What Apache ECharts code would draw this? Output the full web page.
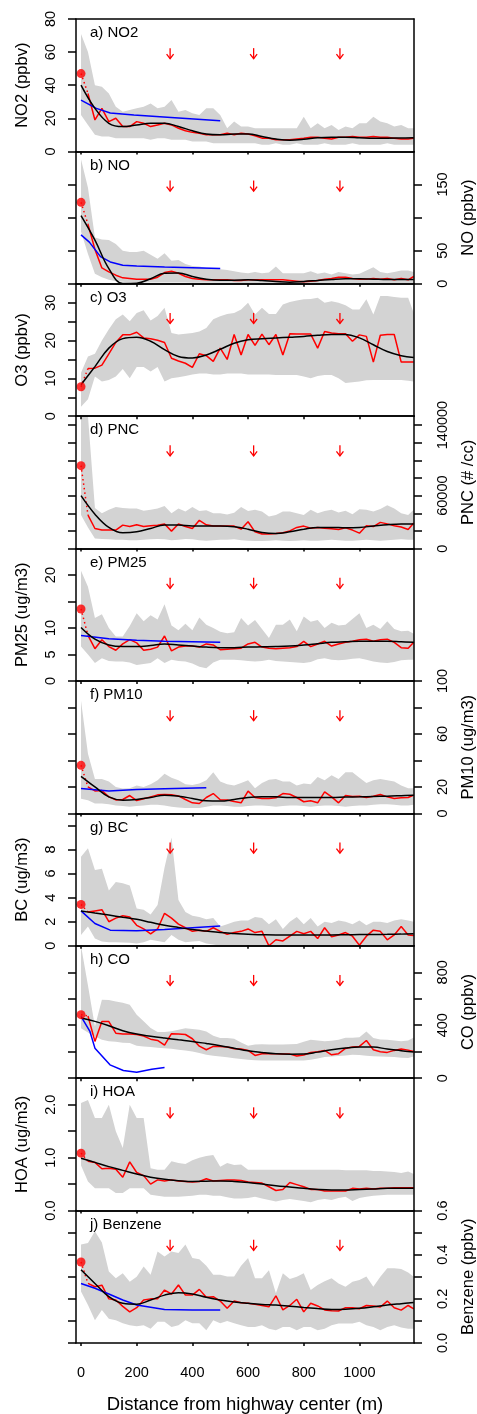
<!DOCTYPE html>
<html><head><meta charset="utf-8">
<script src="https://cdn.jsdelivr.net/npm/echarts@6/dist/echarts.min.js"></script>
<style>html,body{margin:0;padding:0;background:#fff}#c{width:477px;height:1414px}</style>
</head><body><div id="c"></div>
<script>
// ---------------- DATA ----------------
const DIST = [0,25,50,75,100,125,150,175,200,225,250,275,300,325,350,375,400,425,450,475,500,525,550,575,600,625,650,675,700,725,750,775,800,825,850,875,900,925,950,975,1000,1025,1050,1075,1100,1125,1150,1175,1195];
const FIT_DIST = [0,50,100,150,200,250,300,350,400,450,500,550,600,650,700,750,800,850,900,950,1000,1050,1100,1150,1195];
const X_TICKS = [0,200,400,600,800,1000];
const ARROW_X = [320,620,930];
const PANEL_LABELS = ['a) NO2','b) NO','c) O3','d) PNC','e) PM25','f) PM10','g) BC','h) CO','i) HOA','j) Benzene'];
const AXIS_TITLES = ['NO2 (ppbv)','NO (ppbv)','O3 (ppbv)','PNC (# /cc)','PM25 (ug/m3)','PM10 (ug/m3)','BC (ug/m3)','CO (ppbv)','HOA (ug/m3)','Benzene (ppbv)'];
const X_TITLE = 'Distance from highway center (m)';
const ROADSIDE = [47,123,7.8,94000,13.6,36.3,3.44,480,1.085,0.367];

// NO2
const NO2_UP = [71,60,40,39,35,27,24,25,26,27,29,26,27,31,24,25,23,22,26,26,22,14,18,15,15,14,14,14,14,14,14,14,21,14,17,14,16,13,15,14,17,17,21,18,17,15,16,14,14];
const NO2_LO = [22,16,10,9,9,8,8,8,8,8,7,8,8,7,7,7,6,6,6,5,5,5,5,5,5,5,4,4,5,4,4,5,4,4,4,5,4,4,4,5,4,4,4,4,5,4,4,4,4];
const NO2_MED = [35,19,26,18,20,15,15,18,17,15,16,17,16,14,12.5,11.5,11,10,10,10,11,10,11,10.5,9.5,8,8,7,7,7,7.5,8,8.6,8.5,8,7.5,8.5,8.5,9,8.5,8.5,9,8.5,8.5,8,7.5,7.5,8];
const NO2_FIT = [40,26,17,15,16,17,17,15,12.5,10.5,10,10.5,10.5,9,7.5,6.8,7.3,8.3,8.6,8.6,8.3,8,8,8.1,8.2];
const NO2_MODEL_X = [0,55,105,190,310,500];
const NO2_MODEL = [31,26,23.2,22,20.7,18.5];
// NO
const NO_UP = [188,145,70,67,66,60,50,48,48,50,44,38,46,35,36,30,27,26,24,23,22,21,19,17,16,18,16,17,26,16,16,16,16,19,15,17,14,18,16,14,15,20,25,18,16,18,20,20,18];
const NO_LO = [79,45,15,10,6,4,3,2,2,2,2,2,2,2,2,2,1.5,1.5,1.5,1.5,1.5,1.5,1.5,1,1,1,1,1,1,1,1,1,1,1,1,1,1,1,1,1,1,1,1,1,1,1,1,1,1];
const NO_MED = [90,52,24,18,13,9,8,7,7,7,10,17,19,16,11,8,7,6,6,6,6,5,5,6,6,6,6,6,6,5,4,3,4,5,7,8,10,10,8,7,7,8,7,8,6,8,6,11];
const NO_FIT = [103,66,23,0.5,1,7.6,16,16.5,11,7,5.5,5.5,6,5,3.5,2.5,3.5,5,6.5,7.5,7.5,7,6.5,6.5,6.5];
const NO_MODEL_X = [0,30,70,105,150,200,300,500];
const NO_MODEL = [74,63,41,33,28,27,25.5,23];
// O3
const O3_UP = [11.5,15.8,16.5,20,23,25.6,26.9,25.1,27.3,28,25.3,26.5,28.7,22,21.6,21.8,22,22.4,23.3,25.6,26.4,27,27.3,28.2,30,26.9,28.7,27,27,29.5,30.2,30.6,30.9,31,31.3,30,30.4,30,29.3,28.2,28.2,30.9,26.9,31.8,31.8,31.5,31.3,31.3,27.3];
const O3_LO = [2.5,4.5,10.5,9.2,9.6,10.5,12.5,10,13,13,11.8,13,9.2,10,10.3,10.6,11,11.3,11.3,11,11,11.3,11.3,11.3,11,11,11,11,10.9,10.9,10.9,10.9,10.5,10,10.6,10.9,10.9,10,8.8,9,9.2,9.5,9.6,9.6,9.6,9.6,9.6,9.4,9.2];
const O3_MED = [12.6,12.7,13.5,16.5,19.5,21.5,21.5,22.2,20.7,20.5,20.1,19.5,15.3,14.6,14,12.9,16.5,16,14.5,18,15,21.6,16.2,21.6,18.7,21.7,18.9,21.6,16.2,21.8,21.7,21.7,21.7,18,22.4,22,21.8,21.8,19.8,21.5,21.1,14.3,21.4,21.6,21.6,14.3,14.3,14.3];
const O3_FIT = [8.3,13.1,18,20.5,20.9,19.8,17.6,15.8,15.4,16.2,17.7,19.3,20.2,20.5,20.7,20.9,21.1,21.4,21.6,21.6,20.7,18.9,17.1,16,15.5];
// PNC
const PNC_UP = [150000,150000,46000,40000,44000,47000,46000,45500,45500,43000,44000,45500,48300,40000,45500,42000,47000,42500,43500,40000,40000,38500,40500,47000,42500,44000,42000,36500,38000,42000,42000,40000,38000,44000,40000,42500,44000,41000,43000,39000,44500,44000,42000,45000,49000,45500,40000,38000,44000];
const PNC_LO = [38000,24000,11500,11000,10500,10000,10000,9500,9500,10000,10500,11000,10500,9500,10000,11000,10500,9500,9000,9500,10000,10000,10500,9500,9000,8500,8500,9000,9500,9000,8500,9000,9500,9000,9000,9500,10000,9500,9000,9000,9500,10000,9500,9000,9500,10000,10500,10000,10000];
const PNC_MED = [38000,22800,21000,21000,21000,26600,25000,27000,25000,26000,26500,27800,19800,27800,25000,22800,32000,27000,25500,25500,25500,25500,22000,30400,19000,16500,16500,17100,17900,20000,24000,25500,23000,24000,23000,22500,21700,23500,21000,17500,26000,25000,29700,28000,26000,24500,21700,29000];
const PNC_FIT = [60000,39000,24000,17900,19000,22800,26600,26600,25500,25500,25500,24700,22000,18250,17100,19000,22000,24000,24000,23600,24000,25500,27000,27800,27800];
// PM2.5
const PM25_UP = [20.8,17.8,11.9,12.6,10,8.4,8.4,10.4,12.8,11.3,12.4,11.6,14.5,10.5,9.6,10.8,9.6,12,10.6,10,9.3,9,9.2,11.9,10.5,11.5,9.8,8.1,10.6,10.6,11.6,9.4,12.2,11.2,11.5,10,11,10.5,10.6,11.7,12.8,10,10.6,9.8,11.3,9.8,9.4,9.5,8.9];
const PM25_LO = [6.5,5,3.4,4.3,3.8,3.7,3.7,3.5,3,3.2,3.4,4.3,3.4,4,3.8,3.7,3.3,2.7,2.4,3.5,4,4,4,3.9,3.8,3.7,3.8,4,3.8,3.7,3.6,3.5,3.4,3.6,4.1,4.3,4,3.9,4,4.2,4.3,4,3.7,3.5,3.4,3.6,3.9,4,4];
const PM25_MED = [8.6,6.1,7.8,6.5,5.8,7,7.8,7.2,5.8,6,6.4,8.5,5.7,6.4,6.6,6.6,6.4,7,6.8,5.9,6,6.1,6.2,7,7.3,6.4,6.2,6.1,6.2,6.3,6.5,7.5,6.5,7,7.5,6.6,7,7.3,7.5,7.8,7.9,7.5,7.8,7.9,7.3,6.3,6.2,7.3];
const PM25_FIT = [10.1,7.9,6.8,6.5,6.5,6.7,7,6.8,6.6,6.4,6.3,6.3,6.4,6.45,6.5,6.6,6.8,7.05,7.3,7.4,7.5,7.5,7.5,7.4,7.3];
const PM25_MODEL_X = [0,100,200,300,400,500];
const PM25_MODEL = [8.6,8,7.7,7.5,7.4,7.3];
// PM10
const PM10_UP = [85,45,26,26,24,20,18.8,19,21,20,22,25,30,27,25,22,21.5,22.5,25,31,24,22,21,23,25,19,23,25.5,26,24,24,21,22.5,22,27.5,25,28.8,26,31,31,27,23,25,26,25,24,21,19,19];
const PM10_LO = [11,10,7.5,7.5,7,6,5.5,5,5.5,6,6.5,6.5,6,5,4.5,4,4,4,5,6,6,5.5,5,5,5.5,6,6,5.5,5,5.5,6,6,5.5,5,5.5,6,6,5.5,5,5.5,6,6,6.5,7,7,6.5,6,6,6.5];
const PM10_MED = [20,17,17.3,12.5,10.2,10.5,13.5,9.7,11,12.5,14,14.3,14,13.2,10.5,8,7.5,12,15,10.3,10.2,9,8,16.8,12,11.3,11.3,11.8,15,14.5,12,8.8,9.5,8,16.3,12.5,8,13.5,12.8,13,12,13,14.3,12.5,11.3,11.8,12,13.8];
const PM10_FIT = [28,20,12.5,10,10.5,12,13.8,13,11.3,9.5,9.3,10.5,12,12.5,12.5,12,12,12,12,12.3,12.5,12.8,13,13.4,13.8];
const PM10_MODEL_X = [0,100,200,300,450];
const PM10_MODEL = [18.8,17,18,18.6,19.3];
// BC
const BC_UP = [7.4,8.1,6.3,6.4,4.6,5.3,5.2,5,3.1,3,2.6,3.4,6.5,9,3.8,2.8,2.5,2.4,2.2,2.3,1.6,1.8,2,2.1,2.1,2.4,2.3,1.8,2.2,1.4,2,2.4,1.8,2.3,1.6,2,1.9,2.1,2,1.8,2.1,1.7,2,2,1.9,2.1,2.2,2.1,2];
const BC_LO = [0.9,1.6,0.6,0.35,0.3,0.3,0.28,0.25,0.2,0.3,0.5,0.4,0.3,0.9,0.5,0.3,0.35,0.4,0.2,0.1,0,0,0,0,0,0,0,0,0,0,0,0,0,0,0,0,0,0,0,0,0,0,0,0,0,0,0,0,0];
const BC_MED = [2.8,2.9,3,2,2.3,2.5,2.4,1.7,1.4,1,1.4,2.7,2.3,1.8,1.5,1.2,1.3,1.2,1.5,1.2,0.95,1.1,1.2,1.4,1.1,1.2,0,0.5,0.4,0.8,1.2,1,1.2,0.6,1.5,0.75,0.9,1.1,0.8,0.05,0.8,1.3,1.2,0.5,0.9,1.6,0.9,0.85];
const BC_FIT = [2.9,2.72,2.55,2.37,2.2,1.95,1.7,1.52,1.35,1.22,1.1,1.02,0.95,0.92,0.9,0.9,0.9,0.9,0.9,0.92,0.93,0.94,0.95,0.97,1.0];
const BC_MODEL_X = [0,50,105,200,300,500];
const BC_MODEL = [2.9,1.85,1.3,1.25,1.35,1.65];
// CO
const CO_UP = [1000,700,390,593,590,580,570,555,480,430,380,348,348,355,366,378,372,365,353,320,303,303,298,270,245,255,257,255,255,255,256,258,275,290,285,280,282,290,305,305,310,353,303,292,290,285,280,285,308];
const CO_LO = [378,345,315,290,280,275,268,265,245,240,235,230,227,222,215,210,202,190,177,170,164,158,151,145,139,136,134,134,134,134,134,134,134,140,148,160,164,168,172,177,175,170,166,164,162,160,155,152,164];
const CO_MED = [470,278,429,428,340,333,333,330,318,295,285,250,336,334,330,298,242,215,240,240,235,222,221,210,172,184,184,184,183,182,168,175,194,200,210,177,185,225,235,240,285,215,200,195,210,220,212,202];
const CO_FIT = [454,429,396,358,333,317,303,290,278,262,245,226,207,194,184,181,182,197,215,228,235,235,220,208,197];
const CO_MODEL_X = [0,32,50,104,152,200,254,300];
const CO_MODEL = [467,353,227,101,58,45,68,81];
// HOA
const HOA_UP = [2.03,2.09,1.75,1.75,2.0,1.5,1.18,2.0,1.75,1.75,0.8,0.77,0.77,0.93,0.9,0.88,0.95,1.0,1.03,1.05,0.83,0.9,0.86,0.87,0.77,0.77,0.77,0.77,0.77,0.77,0.77,0.77,0.77,0.77,0.77,0.77,0.77,0.77,0.76,0.76,0.76,0.76,0.75,0.75,0.74,0.73,0.71,0.74,0.69];
const HOA_LO = [0.85,0.55,0.42,0.42,0.42,0.33,0.33,0.42,0.42,0.42,0.3,0.28,0.26,0.26,0.26,0.27,0.28,0.3,0.3,0.28,0.28,0.25,0.23,0.23,0.24,0.26,0.23,0.2,0.17,0.2,0.22,0.2,0.18,0.16,0.2,0.22,0.2,0.24,0.26,0.18,0.24,0.26,0.28,0.29,0.3,0.3,0.3,0.3,0.3];
const HOA_MED = [0.93,0.91,0.79,0.8,0.78,0.63,0.92,0.72,0.66,0.5,0.58,0.56,0.58,0.56,0.55,0.54,0.55,0.6,0.56,0.57,0.58,0.58,0.57,0.54,0.53,0.52,0.45,0.38,0.4,0.53,0.49,0.45,0.4,0.4,0.37,0.37,0.37,0.37,0.42,0.41,0.42,0.41,0.42,0.42,0.43,0.43,0.43,0.43];
const HOA_FIT = [0.99,0.91,0.83,0.76,0.69,0.63,0.59,0.565,0.55,0.555,0.56,0.55,0.53,0.5,0.47,0.445,0.42,0.4,0.39,0.39,0.4,0.41,0.42,0.42,0.42];
// Benzene
const BENZ_UP = [0.446,0.453,0.506,0.455,0.324,0.293,0.316,0.278,0.3,0.347,0.309,0.415,0.392,0.415,0.408,0.446,0.385,0.38,0.35,0.309,0.309,0.301,0.301,0.35,0.385,0.293,0.293,0.33,0.225,0.316,0.29,0.3,0.316,0.24,0.263,0.28,0.293,0.27,0.255,0.278,0.286,0.301,0.255,0.3,0.339,0.339,0.335,0.32,0.3];
const BENZ_LO = [0.233,0.172,0.103,0.149,0.11,0.103,0.09,0.08,0.076,0.08,0.065,0.096,0.096,0.073,0.08,0.103,0.09,0.09,0.058,0.103,0.09,0.1,0.09,0.08,0.073,0.073,0.08,0.065,0.058,0.073,0.073,0.058,0.073,0.073,0.058,0.065,0.08,0.088,0.088,0.088,0.096,0.08,0.073,0.058,0.073,0.08,0.07,0.065,0.065];
const BENZ_MED = [0.27,0.255,0.262,0.2,0.195,0.166,0.141,0.16,0.195,0.2,0.2,0.24,0.222,0.263,0.217,0.217,0.243,0.207,0.21,0.19,0.157,0.19,0.182,0.18,0.175,0.17,0.164,0.214,0.15,0.17,0.198,0.141,0.18,0.168,0.15,0.146,0.145,0.16,0.16,0.155,0.17,0.168,0.163,0.19,0.16,0.149,0.17,0.155];
const BENZ_FIT = [0.332,0.27,0.21,0.18,0.176,0.195,0.217,0.228,0.222,0.207,0.195,0.186,0.18,0.175,0.172,0.167,0.161,0.156,0.152,0.153,0.157,0.164,0.172,0.178,0.183];
const BENZ_MODEL_X = [0,50,100,150,200,300,400,500];
const BENZ_MODEL = [0.27,0.248,0.222,0.195,0.172,0.152,0.149,0.149];

// y-axis scales per panel
const Y_MAX = [80,200,35,150000,25,100,11,1000,2.5,0.6];
const Y_TICKS = [[0,20,40,60,80],[0,50,100,150],[0,5,10,15,20,25,30],[0,20000,40000,60000,80000,100000,120000,140000],[0,5,10,15,20],[0,20,40,60,80,100],[0,2,4,6,8,10],[0,200,400,600,800],[0,0.5,1,1.5,2],[0,0.1,0.2,0.3,0.4,0.5,0.6]];
const Y_LABELS = [[0,20,40,60,80],[0,50,150],[0,10,20,30],[0,60000,140000],[0,5,10,20],[0,20,60,100],[0,2,4,6,8],[0,400,800],[0,1,2],[0,0.2,0.4,0.6]];

// ---------------- BUILD ----------------
const PANELS = [
  {up:NO2_UP, lo:NO2_LO, med:NO2_MED, fit:NO2_FIT, mx:NO2_MODEL_X, my:NO2_MODEL},
  {up:NO_UP, lo:NO_LO, med:NO_MED, fit:NO_FIT, mx:NO_MODEL_X, my:NO_MODEL},
  {up:O3_UP, lo:O3_LO, med:O3_MED, fit:O3_FIT},
  {up:PNC_UP, lo:PNC_LO, med:PNC_MED, fit:PNC_FIT},
  {up:PM25_UP, lo:PM25_LO, med:PM25_MED, fit:PM25_FIT, mx:PM25_MODEL_X, my:PM25_MODEL},
  {up:PM10_UP, lo:PM10_LO, med:PM10_MED, fit:PM10_FIT, mx:PM10_MODEL_X, my:PM10_MODEL},
  {up:BC_UP, lo:BC_LO, med:BC_MED, fit:BC_FIT, mx:BC_MODEL_X, my:BC_MODEL},
  {up:CO_UP, lo:CO_LO, med:CO_MED, fit:CO_FIT, mx:CO_MODEL_X, my:CO_MODEL},
  {up:HOA_UP, lo:HOA_LO, med:HOA_MED, fit:HOA_FIT},
  {up:BENZ_UP, lo:BENZ_LO, med:BENZ_MED, fit:BENZ_FIT, mx:BENZ_MODEL_X, my:BENZ_MODEL}
];

const FONT = '"Liberation Sans", Arial, Helvetica, sans-serif';
const LEFT = 76, RIGHT_EDGE = 414, TOP0 = 19, PH = 132.4;
const BORDER = {show:true, onZero:false, lineStyle:{color:'#000', width:1.5}};
const pts = (xs, ys) => ys.map((y, k) => [xs[k], y]);
const fmtY = (i) => (v) => (i === 8 || i === 9) ? Number(v).toFixed(1) : String(v);

const grids = [], xAxes = [], yAxes = [], series = [], graphics = [];
PANELS.forEach((p, i) => {
  const top = TOP0 + i * PH;
  const leftSide = (i % 2 === 0);
  grids.push({left: LEFT, width: RIGHT_EDGE - LEFT, top: top, height: PH, containLabel: false, outerBoundsMode: 'none'});
  const last = (i === 9);
  xAxes.push({
    gridIndex: i, type: 'value', position: 'bottom', min: -18, max: 1196, z: 10,
    axisLine: BORDER,
    axisTick: {show: true, inside: false, length: 3, customValues: X_TICKS, lineStyle: {color: '#000', width: 1.5}},
    axisLabel: {show: last, customValues: X_TICKS, margin: 22, fontSize: 14.5, color: '#000', fontFamily: FONT, formatter: (v) => String(v)},
    splitLine: {show: false},
    name: last ? X_TITLE : '', nameLocation: 'middle', nameGap: 52,
    nameTextStyle: {fontSize: 18.5, color: '#000', fontFamily: FONT}
  });
  xAxes.push({
    gridIndex: i, type: 'value', position: 'top', min: -18, max: 1196, z: 10,
    axisLine: BORDER, axisTick: {show: false}, axisLabel: {show: false}, splitLine: {show: false}
  });
  yAxes.push({
    gridIndex: i, type: 'value', position: 'left', min: 0, max: Y_MAX[i], z: 10,
    axisLine: BORDER,
    axisTick: {show: true, inside: false, length: 8, customValues: Y_TICKS[i], lineStyle: {color: '#000', width: 1.5}},
    axisLabel: {show: leftSide, customValues: Y_LABELS[i], rotate: 90, margin: 18, fontSize: 14.5, color: '#000', fontFamily: FONT, formatter: fmtY(i), hideOverlap: false},
    splitLine: {show: false},
    name: leftSide ? AXIS_TITLES[i] : '', nameLocation: 'middle', nameRotate: 90, nameGap: 45,
    nameTextStyle: {fontSize: 16.5, color: '#000', fontFamily: FONT}
  });
  yAxes.push({
    gridIndex: i, type: 'value', position: 'right', min: 0, max: Y_MAX[i], z: 10,
    axisLine: BORDER,
    axisTick: {show: !leftSide, inside: false, length: 8, customValues: Y_TICKS[i], lineStyle: {color: '#000', width: 1.5}},
    axisLabel: {show: !leftSide, customValues: Y_LABELS[i], rotate: 90, margin: 21, fontSize: 14.5, color: '#000', fontFamily: FONT, formatter: fmtY(i), hideOverlap: false},
    splitLine: {show: false},
    name: !leftSide ? AXIS_TITLES[i] : '', nameLocation: 'middle', nameRotate: 90, nameGap: 46,
    nameTextStyle: {fontSize: 16.5, color: '#000', fontFamily: FONT}
  });
  const xi = 2 * i, yi = 2 * i;
  const base = {xAxisIndex: xi, yAxisIndex: yi, silent: true, animation: false};
  // band (min-max) as a polygon through the axis scales
  const bandData = DIST.map((x, k) => [x, p.lo[k], p.up[k]]);
  series.push(Object.assign({type: 'custom', z: 1, clip: true, data: bandData, encode: {x: 0, y: [1, 2]},
    renderItem: (params, api) => {
      if (params.dataIndex !== 0) return null;
      const upper = bandData.map(d => api.coord([d[0], d[2]]));
      const lower = bandData.map(d => api.coord([d[0], d[1]])).reverse();
      return {type: 'polygon', shape: {points: upper.concat(lower)}, style: {fill: '#d3d3d3', stroke: null}};
    }}, base));
  // median (red)
  series.push(Object.assign({type: 'line', z: 3, symbol: 'none', lineStyle: {color: '#ff0000', width: 1.5}, data: pts(DIST.slice(1), p.med)}, base));
  // dotted link from roadside point
  series.push(Object.assign({type: 'line', z: 3, symbol: 'none', lineStyle: {color: '#ff0000', width: 1.5, type: [1.5, 3]},
    data: [[0, ROADSIDE[i]], [DIST[1], p.med[0]]]}, base));
  // model (blue)
  if (p.mx) series.push(Object.assign({type: 'line', z: 3, symbol: 'none', lineStyle: {color: '#0000ff', width: 1.5}, data: pts(p.mx, p.my)}, base));
  // smooth fit (black)
  series.push(Object.assign({type: 'line', z: 4, symbol: 'none', smooth: 0.4, lineStyle: {color: '#000', width: 1.5}, data: pts(FIT_DIST, p.fit)}, base));
  // arrows
  const ymax = Y_MAX[i];
  series.push(Object.assign({type: 'custom', z: 5, data: ARROW_X.map(x => [x, 0]), encode: {x: 0, y: 1},
    renderItem: (params, api) => {
      const x = api.value(0);
      const a = api.coord([x, ymax * 0.78]);
      const b = api.coord([x, ymax * 0.70]);
      return {type: 'group', children: [
        {type: 'line', shape: {x1: a[0], y1: a[1], x2: b[0], y2: b[1]}, style: {stroke: '#ff0000', lineWidth: 1.3}},
        {type: 'polyline', shape: {points: [[b[0] - 3.5, b[1] - 4.5], [b[0], b[1]], [b[0] + 3.5, b[1] - 4.5]]}, style: {stroke: '#ff0000', fill: null, lineWidth: 1.3}}
      ]};
    }}, base));
  // roadside point
  series.push(Object.assign({type: 'scatter', symbol: 'circle', symbolSize: 9, itemStyle: {color: '#ff0000'}, data: [[0, ROADSIDE[i]]], z: 6}, base));
  graphics.push({type: 'text', x: 90, y: top + 14, silent: true,
    style: {text: PANEL_LABELS[i], fontSize: 15, fontFamily: FONT, fill: '#000', verticalAlign: 'middle', align: 'left'}, z: 100});
});

const chart = echarts.init(document.getElementById('c'), null, {renderer: 'canvas'});
chart.setOption({
  animation: false,
  backgroundColor: '#fff',
  grid: grids, xAxis: xAxes, yAxis: yAxes, series: series, graphic: graphics
});
</script>
</body></html>
